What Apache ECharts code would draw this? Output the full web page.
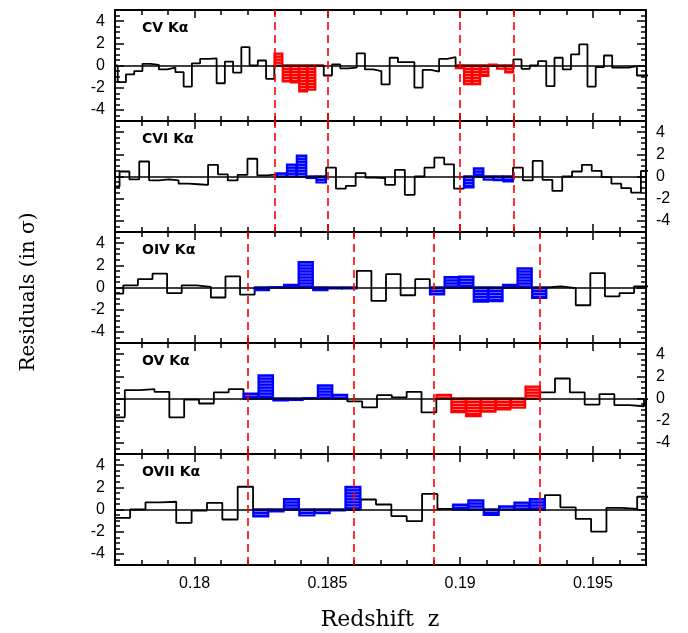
<!DOCTYPE html>
<html><head><meta charset="utf-8">
<script src="https://cdn.jsdelivr.net/npm/echarts@6.0.0/dist/echarts.min.js"></script>
<style>html,body{margin:0;padding:0;background:#fff}#c{width:688px;height:633px}</style>
</head><body><div id="c"></div><script>
// ---- data ----
const panelNames = ['CV K\u03b1', 'CVI K\u03b1', 'OIV K\u03b1', 'OV K\u03b1', 'OVII K\u03b1'];
const zMin = 0.177, zMax = 0.197;
const xMajorTicks = [0.18, 0.185, 0.19, 0.195];
const xTickLabels = ['0.18', '0.185', '0.19', '0.195'];
const yMajorTicks = [-4, -2, 0, 2, 4];
const yTickLabels = ['-4', '-2', '0', '2', '4'];
// left edge of the first bin and bin width (redshift) for each panel
const binStart = [0.176792, 0.1768015, 0.176763, 0.1768117, 0.1769917];
const binWidth = [0.0003104, 0.0003705, 0.0005497, 0.0005587, 0.0005787];

const cvValues = [0.0, -1.5, -0.8, -0.5, 0.15, 0.05, -0.35, -0.2, -0.6, -1.9,
  0.2, 0.6, 0.65, -1.6, 0.35, -0.65, 1.65, 0.0, 0.45, -1.2,
  1.1, -1.45, -1.55, -2.35, -2.2, 0.0, -0.9, 0.1, -0.25, -0.2,
  1.1, -0.35, -0.5, -1.7, 0.7, 0.3, 0.3, -2.0, -0.4, -0.55,
  0.6, 0.75, -0.25, -1.7, -1.7, -0.95, 0.1, -0.3, -0.65, 0.55,
  -0.3, 0.0, 0.4, -1.85, 0.7, -0.35, 1.0, 1.9, -1.9, -0.15,
  0.9, -0.2, -0.2, -0.05, -0.9, -0.9];
const cviValues = [-0.9, 0.45, -0.25, 1.35, -0.35, -0.25, -0.35, -0.65, -0.7, -0.75,
  1.05, 0.2, -0.35, 0.15, 1.6, 0.1, 0.2, 0.3, 1.1, 1.9,
  -0.15, -0.55, 0.8, -1.1, -0.85, 0.3, -0.1, -0.15, -0.75, 0.6,
  -1.65, 0.0, 0.8, 1.7, 1.1, -1.1, -1.0, 0.75, -0.3, -0.35,
  -0.45, 0.8, -0.35, 1.4, -0.3, -1.3, 0.0, 0.45, 1.05, 0.5,
  -0.05, -0.65, -1.05, -1.45, 0.5];
const oivValues = [-0.55, 0.2, 0.75, 1.25, -0.5, 0.2, 0.05, -0.9, 1.0, -0.65,
  -0.25, 0.05, 0.25, 2.3, -0.25, -0.1, -0.1, 1.5, -1.2, 1.2,
  -0.7, 0.75, -0.65, 0.95, 1.0, -1.3, -1.25, 0.25, 1.75, -0.95,
  0.1, -0.05, -1.6, 1.3, -0.8, -0.5, 0.1];
const ovValues = [-1.7, 0.75, 0.85, 0.6, -1.7, -0.1, -0.45, 0.55, 0.85,
  0.45, 2.1, -0.2, -0.15, 0.05, 1.2, 0.35, -0.25, -0.8, 0.3,
  0.1, 0.6, -1.25, 0.35, -1.25, -1.6, -1.2, -1.0, -0.85, 1.1,
  0.55, 1.8, 0.55, -0.55, 0.4, -0.6, -0.7, -0.05];
const oviiValues = [-0.75, 0.0, 0.65, 0.7, -1.2, -0.1, 0.6, -0.9, 2.05,
  -0.65, -0.2, 0.95, -0.55, -0.35, -0.1, 2.05, 0.9, 0.45, -0.6,
  -1.05, 1.4, 0.05, 0.45, 0.85, -0.5, 0.3, 0.65, 0.95, 1.3,
  0.2, -0.85, -2.0, 0.15, 0.05, 1.15];
const panelValues = [cvValues, cviValues, oivValues, ovValues, oviiValues];
// highlighted (hatched) bin index ranges [first, last, colour]
const highlights = [
  [[20, 25, 'red'], [42, 48, 'red']],
  [[17, 21, 'blue'], [36, 40, 'blue']],
  [[10, 16, 'blue'], [22, 29, 'blue']],
  [[9, 15, 'blue'], [22, 28, 'red']],
  [[9, 15, 'blue'], [22, 27, 'blue']]
];
const markerZUpper = [0.183, 0.185, 0.190, 0.192];
const markerZLower = [0.182, 0.186, 0.189, 0.193];

// ---- layout ----
const gridLeft = 115, gridWidth = 531, gridTop0 = 10, gridH = 111;
const COLORS = { red: ['#ff0000', '#ff9090'], blue: ['#0000ff', '#8080ff'] };
const tickFont = 'Liberation Sans';

const chart = echarts.init(document.getElementById('c'), null, { renderer: 'canvas' });
const grids = [], xAxes = [], yAxes = [], series = [], graphics = [];

function isHighlighted(p, i) {
  for (const h of highlights[p]) if (i >= h[0] && i <= h[1]) return h[2];
  return null;
}

for (let p = 0; p < 5; p++) {
  const top = gridTop0 + p * gridH;
  grids.push({ left: gridLeft, top: top, width: gridWidth, height: gridH, containLabel: false });
  const base = { gridIndex: p, type: 'value', min: zMin, max: zMax, splitLine: { show: false } };
  const lastPanel = p === 4;
  xAxes.push(Object.assign({}, base, {
    position: 'bottom',
    axisLine: { show: true, onZero: false, lineStyle: { color: '#000', width: 2 } },
    axisTick: { show: true, inside: true, length: 8, customValues: xMajorTicks, lineStyle: { color: '#000', width: 1.5 } },
    axisLabel: { show: lastPanel, customValues: xMajorTicks, margin: 11, color: '#000', fontSize: 16, fontFamily: tickFont,
      formatter: v => { let best = 0; xMajorTicks.forEach((t, i) => { if (Math.abs(t - v) < Math.abs(xMajorTicks[best] - v)) best = i; }); return xTickLabels[best]; } }
  }));
  xAxes.push(Object.assign({}, base, {
    position: 'bottom', interval: 0.001,
    axisLine: { show: false, onZero: false },
    axisTick: { show: true, inside: true, length: 5, lineStyle: { color: '#000', width: 1.5 } },
    axisLabel: { show: false }
  }));
  xAxes.push(Object.assign({}, base, {
    position: 'top',
    axisLine: { show: true, onZero: false, lineStyle: { color: '#000', width: 2 } },
    axisTick: { show: true, inside: true, length: 8, customValues: xMajorTicks, lineStyle: { color: '#000', width: 1.5 } },
    axisLabel: { show: false }
  }));
  xAxes.push(Object.assign({}, base, {
    position: 'top', interval: 0.001,
    axisLine: { show: false, onZero: false },
    axisTick: { show: true, inside: true, length: 5, lineStyle: { color: '#000', width: 1.5 } },
    axisLabel: { show: false }
  }));
  const ybase = { gridIndex: p, type: 'value', min: -5, max: 5, splitLine: { show: false } };
  const leftLabels = p % 2 === 0;
  ['left', 'right'].forEach(side => {
    const showLab = side === 'left' ? leftLabels : !leftLabels;
    yAxes.push(Object.assign({}, ybase, {
      position: side,
      axisLine: { show: true, onZero: false, lineStyle: { color: '#000', width: 2 } },
      axisTick: { show: true, inside: true, length: 9, customValues: yMajorTicks, lineStyle: { color: '#000', width: 1.5 } },
      axisLabel: { show: showLab, customValues: yMajorTicks, margin: 10, color: '#000', fontSize: 16, fontFamily: tickFont,
        formatter: v => yTickLabels[yMajorTicks.indexOf(Math.round(v))] }
    }));
    yAxes.push(Object.assign({}, ybase, {
      position: side, interval: 0.5,
      axisLine: { show: false, onZero: false },
      axisTick: { show: true, inside: true, length: 5, lineStyle: { color: '#000', width: 1.5 } },
      axisLabel: { show: false }
    }));
  });

  const xi = p * 4, yi = p * 4;
  const vals = panelValues[p];
  const stepPts = [];
  const redBins = [], blueBins = [];
  vals.forEach((v, i) => {
    const l = binStart[p] + i * binWidth[p];
    const r = l + binWidth[p];
    const h = isHighlighted(p, i);
    const vv = h ? 0 : v;
    stepPts.push([l, vv], [r, vv]);
    if (h === 'red') redBins.push([l, r, v]);
    if (h === 'blue') blueBins.push([l, r, v]);
  });
  const markers = p < 2 ? markerZUpper : markerZLower;
  series.push({
    type: 'line', xAxisIndex: xi, yAxisIndex: yi, data: stepPts, showSymbol: false, symbol: 'none',
    lineStyle: { color: '#000', width: 1.8 }, z: 2, animation: false, silent: true, clip: true,
    markLine: {
      silent: true, symbol: 'none', animation: false, z: 5, precision: 6,
      label: { show: false },
      data: [
        { yAxis: 0, lineStyle: { color: '#000', width: 1.5, type: 'solid' } }
      ].concat(markers.map(z => ({ xAxis: z, lineStyle: { color: '#ff0000', width: 1.6, type: [8, 5] } })))
    }
  });
  [['red', redBins], ['blue', blueBins]].forEach(([cname, bins]) => {
    if (!bins.length) return;
    const [col, light] = COLORS[cname];
    series.push({
      type: 'custom', xAxisIndex: xi, yAxisIndex: yi, data: bins, z: 3, animation: false, silent: true,
      encode: { x: [0, 1], y: [2] },
      renderItem: (params, api) => {
        const a = api.coord([api.value(0), 0]);
        const b = api.coord([api.value(1), api.value(2)]);
        const x = Math.min(a[0], b[0]), w = Math.abs(b[0] - a[0]);
        const y = Math.min(a[1], b[1]), h = Math.abs(b[1] - a[1]);
        const children = [{ type: 'rect', shape: { x: x, y: y, width: w, height: h },
          style: { fill: col, stroke: col, lineWidth: 1.8 } }];
        for (let yy = y + 2; yy < y + h - 1; yy += 3) {
          children.push({ type: 'line', shape: { x1: x + 1.5, y1: yy, x2: x + w - 1.5, y2: yy },
            style: { stroke: light, lineWidth: 0.8 } });
        }
        return { type: 'group', children: children };
      }
    });
  });
  graphics.push({ type: 'text', x: 142, y: top + 18, z: 10,
    style: { text: panelNames[p], font: 'bold 14px "DejaVu Sans"', fill: '#000', textAlign: 'left', textVerticalAlign: 'middle' } });
}

graphics.push({ type: 'text', x: 29, y: 292, rotation: Math.PI / 2, z: 10,
  style: { text: 'Residuals (in \u03c3)', font: '20px "DejaVu Serif"', fill: '#000', textAlign: 'center', textVerticalAlign: 'middle' } });
graphics.push({ type: 'text', x: 380, y: 620, z: 10,
  style: { text: 'Redshift  z', font: '22px "DejaVu Serif"', fill: '#000', textAlign: 'center', textVerticalAlign: 'middle' } });

chart.setOption({
  animation: false,
  backgroundColor: '#fff',
  grid: grids, xAxis: xAxes, yAxis: yAxes, series: series, graphic: graphics
});
</script></body></html>
